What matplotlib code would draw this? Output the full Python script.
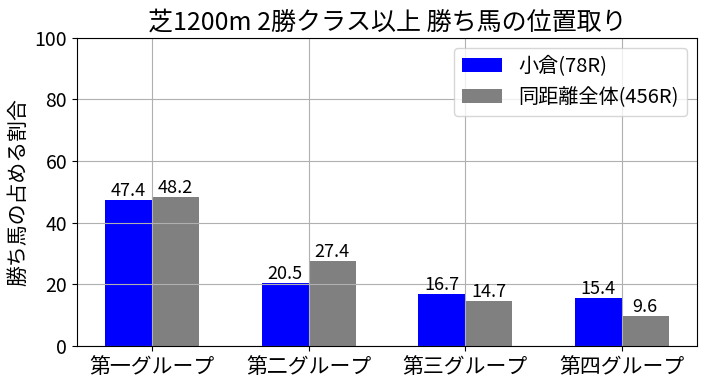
import matplotlib
matplotlib.use('Agg')
import matplotlib.pyplot as plt
import numpy as np

plt.rcParams['font.family'] = ['Noto Sans CJK JP', 'DejaVu Sans']

groups = ['第一グループ', '第二グループ', '第三グループ', '第四グループ']
kokura = [47.4, 20.5, 16.7, 15.4]
overall = [48.2, 27.4, 14.7, 9.6]
labels = ['小倉(78R)', '同距離全体(456R)']

fig = plt.figure(figsize=(7.06, 3.86), dpi=100)
ax = fig.add_axes([0.109, 0.104, 0.878, 0.798])

x = np.arange(len(groups))
w = 0.3
b1 = ax.bar(x - w / 2, kokura, w, color='blue', label=labels[0])
b2 = ax.bar(x + w / 2, overall, w, color='gray', label=labels[1])

# 棒の上に数値
for bars in (b1, b2):
    for r in bars:
        h = r.get_height()
        ax.text(r.get_x() + r.get_width() / 2, h, '%.1f' % h,
                ha='center', va='bottom', fontsize=13)

ax.set_ylim(0, 100)
ax.set_xticks(x)
ax.set_xticklabels(groups, fontsize=15)
ax.tick_params(axis='y', labelsize=14)
ax.set_ylabel('勝ち馬の占める割合', fontsize=15)
ax.set_title('芝1200m 2勝クラス以上 勝ち馬の位置取り', fontsize=18)
ax.grid(True)
ax.legend(loc='upper right', fontsize=14.5)

fig.savefig('out.png', dpi=100)
